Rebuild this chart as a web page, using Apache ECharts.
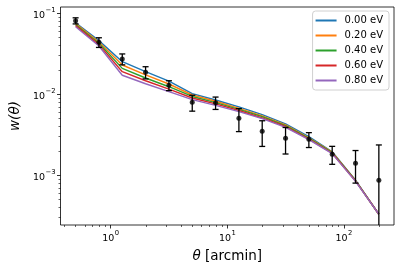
<!DOCTYPE html>
<html>
<head>
<meta charset="utf-8">
<script src="https://cdn.jsdelivr.net/npm/echarts@6/dist/echarts.min.js"></script>
<style>html,body{margin:0;padding:0;background:#fff}#c{width:400px;height:273px}</style>
</head>
<body>
<div id="c"></div>
<script>
// angular separations [arcmin]
const theta = [0.5, 0.792, 1.256, 1.99, 3.155, 5.0, 7.924, 12.56, 19.9, 31.55, 50.0, 79.24, 125.6, 199.1];
// measured w(theta) and symmetric errors
const wObs = [0.081, 0.0439, 0.0273, 0.0187, 0.0129, 0.00796, 0.00787, 0.00506, 0.00349, 0.00286, 0.00278, 0.00182, 0.00141, 0.000867];
const wErr = [0.007, 0.006, 0.0042, 0.0032, 0.0018, 0.00177, 0.00137, 0.0016, 0.00122, 0.00103, 0.00058, 0.000455, 0.00061, 0.0015];
// model curves for neutrino masses
const seriesNames = ['0.00 eV', '0.20 eV', '0.40 eV', '0.60 eV', '0.80 eV'];
const m000 = [0.0766, 0.0460, 0.0253, 0.0190, 0.0145, 0.0102, 0.0085, 0.0070, 0.0056, 0.0043, 0.0030, 0.00195, 0.00087, 0.00033];
const m020 = [0.0745, 0.0443, 0.0230, 0.0174, 0.0134, 0.0098, 0.0082, 0.0067, 0.0054, 0.0042, 0.0029, 0.00193, 0.00086, 0.00033];
const m040 = [0.0725, 0.0427, 0.0209, 0.0159, 0.0124, 0.0094, 0.0079, 0.0065, 0.0053, 0.0041, 0.00285, 0.0019, 0.00086, 0.00033];
const m060 = [0.0704, 0.0411, 0.0190, 0.0147, 0.0116, 0.0090, 0.0076, 0.0063, 0.0051, 0.0040, 0.0028, 0.00187, 0.00085, 0.00033];
const m080 = [0.0684, 0.0395, 0.0172, 0.0135, 0.0108, 0.0086, 0.0073, 0.0061, 0.0050, 0.0039, 0.00275, 0.00185, 0.00084, 0.00033];
const models = [m000, m020, m040, m060, m080];
const colors = ['#1f77b4', '#ff7f0e', '#2ca02c', '#d62728', '#9467bd'];
// ticks
const xMajorTicks = [1, 10, 100];
const xMinorTicks = [0.4, 0.5, 0.6, 0.7, 0.8, 0.9, 2, 3, 4, 5, 6, 7, 8, 9, 20, 30, 40, 50, 60, 70, 80, 90, 200];
const yMajorTicks = [0.001, 0.01, 0.1];
const yMinorTicks = [0.0003, 0.0004, 0.0005, 0.0006, 0.0007, 0.0008, 0.0009, 0.002, 0.003, 0.004, 0.005, 0.006, 0.007, 0.008, 0.009, 0.02, 0.03, 0.04, 0.05, 0.06, 0.07, 0.08, 0.09];
const xRange = [0.371, 268.5];
const yRange = [2.43e-4, 0.1197];

const FONT = 'DejaVu Sans';
const rich = {
  b: {fontFamily: FONT, fontSize: 9.5, color: '#000', verticalAlign: 'bottom', lineHeight: 14},
  s: {fontFamily: FONT, fontSize: 6.8, color: '#000', verticalAlign: 'top', lineHeight: 14, padding: [0, 0, 0, 0.5]}
};
function powLabel(v) {
  const e = Math.round(Math.log10(v));
  return '{b|10}{s|' + String(e).replace('-', '\u2212') + '}';
}
const tickStyle = {lineStyle: {color: '#000', width: 0.8}};

const chart = echarts.init(document.getElementById('c'), null, {renderer: 'canvas'});
const series = [];
models.forEach((m, i) => {
  series.push({
    name: seriesNames[i], type: 'line', xAxisIndex: 0, yAxisIndex: 0,
    data: theta.map((t, k) => [t, m[k]]),
    showSymbol: false, symbol: 'none',
    lineStyle: {color: colors[i], width: 1.4}, itemStyle: {color: colors[i]},
    z: 2 + i, animation: false
  });
});
series.push({
  type: 'custom', xAxisIndex: 0, yAxisIndex: 0, z: 10, clip: true, animation: false,
  data: theta.map((t, k) => [t, wObs[k], wErr[k]]),
  encode: {x: 0, y: 1},
  renderItem: function (params, api) {
    const x = api.value(0), y = api.value(1), e = api.value(2);
    let lo = y - e; let hasLo = true;
    if (lo <= 0) { lo = y * 1e-3; hasLo = false; }
    const top = api.coord([x, y + e]);
    const bot = api.coord([x, lo]);
    const cw = 3;
    const st = {stroke: '#000', lineWidth: 1.3};
    const ch = [
      {type: 'line', shape: {x1: top[0], y1: top[1], x2: bot[0], y2: bot[1]}, style: st},
      {type: 'line', shape: {x1: top[0] - cw, y1: top[1], x2: top[0] + cw, y2: top[1]}, style: st}
    ];
    if (hasLo) ch.push({type: 'line', shape: {x1: bot[0] - cw, y1: bot[1], x2: bot[0] + cw, y2: bot[1]}, style: st});
    return {type: 'group', children: ch};
  }
});
series.push({
  type: 'scatter', xAxisIndex: 0, yAxisIndex: 0, z: 11, animation: false,
  data: theta.map((t, k) => [t, wObs[k]]),
  symbol: 'circle', symbolSize: 5, itemStyle: {color: '#000'}
});

chart.setOption({
  animation: false,
  backgroundColor: '#fff',
  grid: {left: 59, right: 6, top: 7, bottom: 48, show: true, borderColor: '#000', borderWidth: 0.8, backgroundColor: 'transparent'},
  legend: {
    data: seriesNames.map((n, i) => ({name: n, icon: 'rect', itemStyle: {color: colors[i]}})),
    orient: 'vertical', right: 11, top: 11,
    itemWidth: 21, itemHeight: 2, itemGap: 0,
    padding: [2, 6, 2, 3],
    borderColor: '#d0d0d0', borderWidth: 1, borderRadius: 3, backgroundColor: 'rgba(255,255,255,0.8)',
    textStyle: {fontFamily: FONT, fontSize: 10, color: '#000', lineHeight: 15, padding: [0, 0, 0, 3]}
  },
  xAxis: [{
    type: 'log', logBase: 10, min: xRange[0], max: xRange[1], gridIndex: 0, position: 'bottom',
    name: '{i|\u03b8} [arcmin]', nameLocation: 'middle', nameGap: 24,
    nameTextStyle: {fontFamily: FONT, fontSize: 13.5, color: '#000', rich: {i: {fontFamily: FONT, fontStyle: 'italic', fontSize: 13.5, color: '#000'}}},
    axisLine: {show: false},
    axisTick: {show: true, inside: false, length: 3.5, customValues: xMajorTicks, ...tickStyle},
    axisLabel: {show: true, customValues: xMajorTicks, margin: 5, formatter: powLabel, rich: rich},
    splitLine: {show: false}, minorTick: {show: false}
  }, {
    type: 'log', logBase: 10, min: xRange[0], max: xRange[1], gridIndex: 0, position: 'bottom',
    axisLine: {show: false},
    axisTick: {show: true, inside: false, length: 2, customValues: xMinorTicks, lineStyle: {color: '#000', width: 0.6}},
    axisLabel: {show: false}, splitLine: {show: false}
  }],
  yAxis: [{
    type: 'log', logBase: 10, min: yRange[0], max: yRange[1], gridIndex: 0, position: 'left',
    name: '{i|w}(\u03b8)', nameLocation: 'middle', nameGap: 34, nameRotate: 90,
    nameTextStyle: {fontFamily: FONT, fontSize: 13.5, color: '#000', fontStyle: 'italic', rich: {i: {fontFamily: FONT, fontStyle: 'italic', fontSize: 13.5, color: '#000'}}},
    axisLine: {show: false},
    axisTick: {show: true, inside: false, length: 3.5, customValues: yMajorTicks, ...tickStyle},
    axisLabel: {show: true, customValues: yMajorTicks, margin: 5, formatter: powLabel, rich: rich},
    splitLine: {show: false}, minorTick: {show: false}
  }, {
    type: 'log', logBase: 10, min: yRange[0], max: yRange[1], gridIndex: 0, position: 'left',
    axisLine: {show: false},
    axisTick: {show: true, inside: false, length: 2, customValues: yMinorTicks, lineStyle: {color: '#000', width: 0.6}},
    axisLabel: {show: false}, splitLine: {show: false}
  }],
  series: series
});
</script>
</body>
</html>
